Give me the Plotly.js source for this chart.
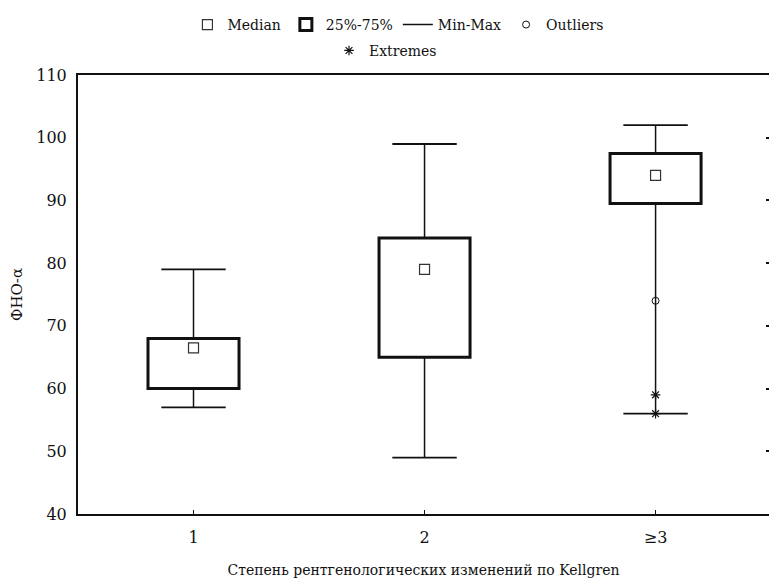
<!DOCTYPE html>
<html>
<head>
<meta charset="utf-8">
<script src="https://cdn.plot.ly/plotly-3.0.1.min.js"></script>
<style>html,body{margin:0;padding:0;background:#fff;}#chart{width:769px;height:581px;}</style>
</head>
<body>
<div id="chart"></div>
<script>
// Data
const categories = ["1", "2", "\u22653"];
const xPos = [1, 2, 3];
const medians = [66.5, 79, 94];
const q1 = [60, 65, 89.5];
const q3 = [68, 84, 97.5];
const minVals = [57, 49, 56];
const maxVals = [79, 99, 102];
const outlierX = [3];
const outlierY = [74];
const extremeX = [3, 3];
const extremeY = [59, 56];

const FONT = "DejaVu Serif";
const INK = "#111";

// whisker segments (min->q1, q3->max) built from the arrays
const wx = [], wy = [];
xPos.forEach((x, i) => {
  wx.push(x, x, null, x, x, null);
  wy.push(minVals[i], q1[i], null, q3[i], maxVals[i], null);
});
const capX = [], capY = [];
xPos.forEach((x, i) => { capX.push(x, x); capY.push(minVals[i], maxVals[i]); });

const traces = [
  {
    type: "scatter", mode: "lines", x: wx, y: wy, name: "Min-Max",
    line: {color: INK, width: 1.5}, showlegend: true, legend: "legend", legendrank: 3,
    hoverinfo: "skip"
  },
  {
    type: "scatter", mode: "markers", x: capX, y: capY, showlegend: false,
    marker: {symbol: "line-ew-open", size: 46, color: INK, line: {color: INK, width: 1.8}},
    hoverinfo: "skip"
  },
  {
    type: "bar", x: xPos, base: q1, y: q3.map((v, i) => v - q1[i]), width: 0.394,
    name: "25%-75%", legend: "legend", legendrank: 2,
    marker: {color: "#fff", line: {color: INK, width: 3}}
  },
  {
    type: "scatter", mode: "markers", x: xPos, y: medians, name: "Median",
    legend: "legend", legendrank: 1,
    marker: {symbol: "square-open", size: 10, color: "#333", line: {color: "#333", width: 1.2}}
  },
  {
    type: "scatter", mode: "markers", x: outlierX, y: outlierY, name: "Outliers",
    legend: "legend", legendrank: 4,
    marker: {symbol: "circle-open", size: 7, color: INK, line: {color: INK, width: 1}}
  },
  {
    type: "scatter", mode: "markers", x: extremeX, y: extremeY, name: "Extremes",
    legend: "legend2",
    marker: {symbol: "asterisk-open", size: 8, color: INK, line: {color: INK, width: 1.2}}
  },
  {
    type: "scatter", mode: "markers", x: [null], y: [null], yaxis: "y2",
    showlegend: false, hoverinfo: "skip"
  }
];

const layout = {
  width: 769, height: 581,
  margin: {l: 78, r: 0, t: 75, b: 67},
  paper_bgcolor: "#fff", plot_bgcolor: "#fff",
  font: {family: FONT, color: INK, size: 14},
  showlegend: true,
  barmode: "overlay",
  xaxis: {
    range: [0.5, 3.491], tickvals: xPos, ticktext: categories,
    ticks: "inside", ticklen: 4, tickcolor: INK, tickwidth: 1,
    showline: true, linecolor: INK, linewidth: 2, mirror: true,
    showgrid: false, zeroline: false,
    tickfont: {family: FONT, size: 16, color: INK},
    ticklabelstandoff: 8,
    title: {text: "Степень рентгенологических изменений по Kellgren", font: {family: FONT, size: 14, color: INK}, standoff: 19}
  },
  yaxis: {
    range: [40, 110], dtick: 10, tick0: 40,
    ticks: "", showline: true, linecolor: INK, linewidth: 2,
    showgrid: false, zeroline: false,
    tickfont: {family: FONT, size: 16, color: INK},
    ticklabelstandoff: 6,
    title: {text: "ФНО-α", font: {family: FONT, size: 15, color: INK}, standoff: 10}
  },
  yaxis2: {
    overlaying: "y", side: "right", range: [40, 110],
    tickvals: [50, 60, 70, 80, 90, 100], ticks: "inside", ticklen: 3, tickwidth: 2,
    tickcolor: INK, showticklabels: false, showline: false, showgrid: false, zeroline: false
  },
  legend: {
    orientation: "h", x: 0.463, xanchor: "center", y: 1.114, yanchor: "middle",
    font: {family: FONT, size: 14, color: INK}, itemwidth: 30,
    bgcolor: "rgba(0,0,0,0)", traceorder: "normal", itemclick: false
  },
  legend2: {
    orientation: "h", x: 0.445, xanchor: "center", y: 1.055, yanchor: "middle",
    font: {family: FONT, size: 14, color: INK}, bgcolor: "rgba(0,0,0,0)"
  }
};

Plotly.newPlot("chart", traces, layout, {displayModeBar: false, staticPlot: true});
</script>
</body>
</html>
